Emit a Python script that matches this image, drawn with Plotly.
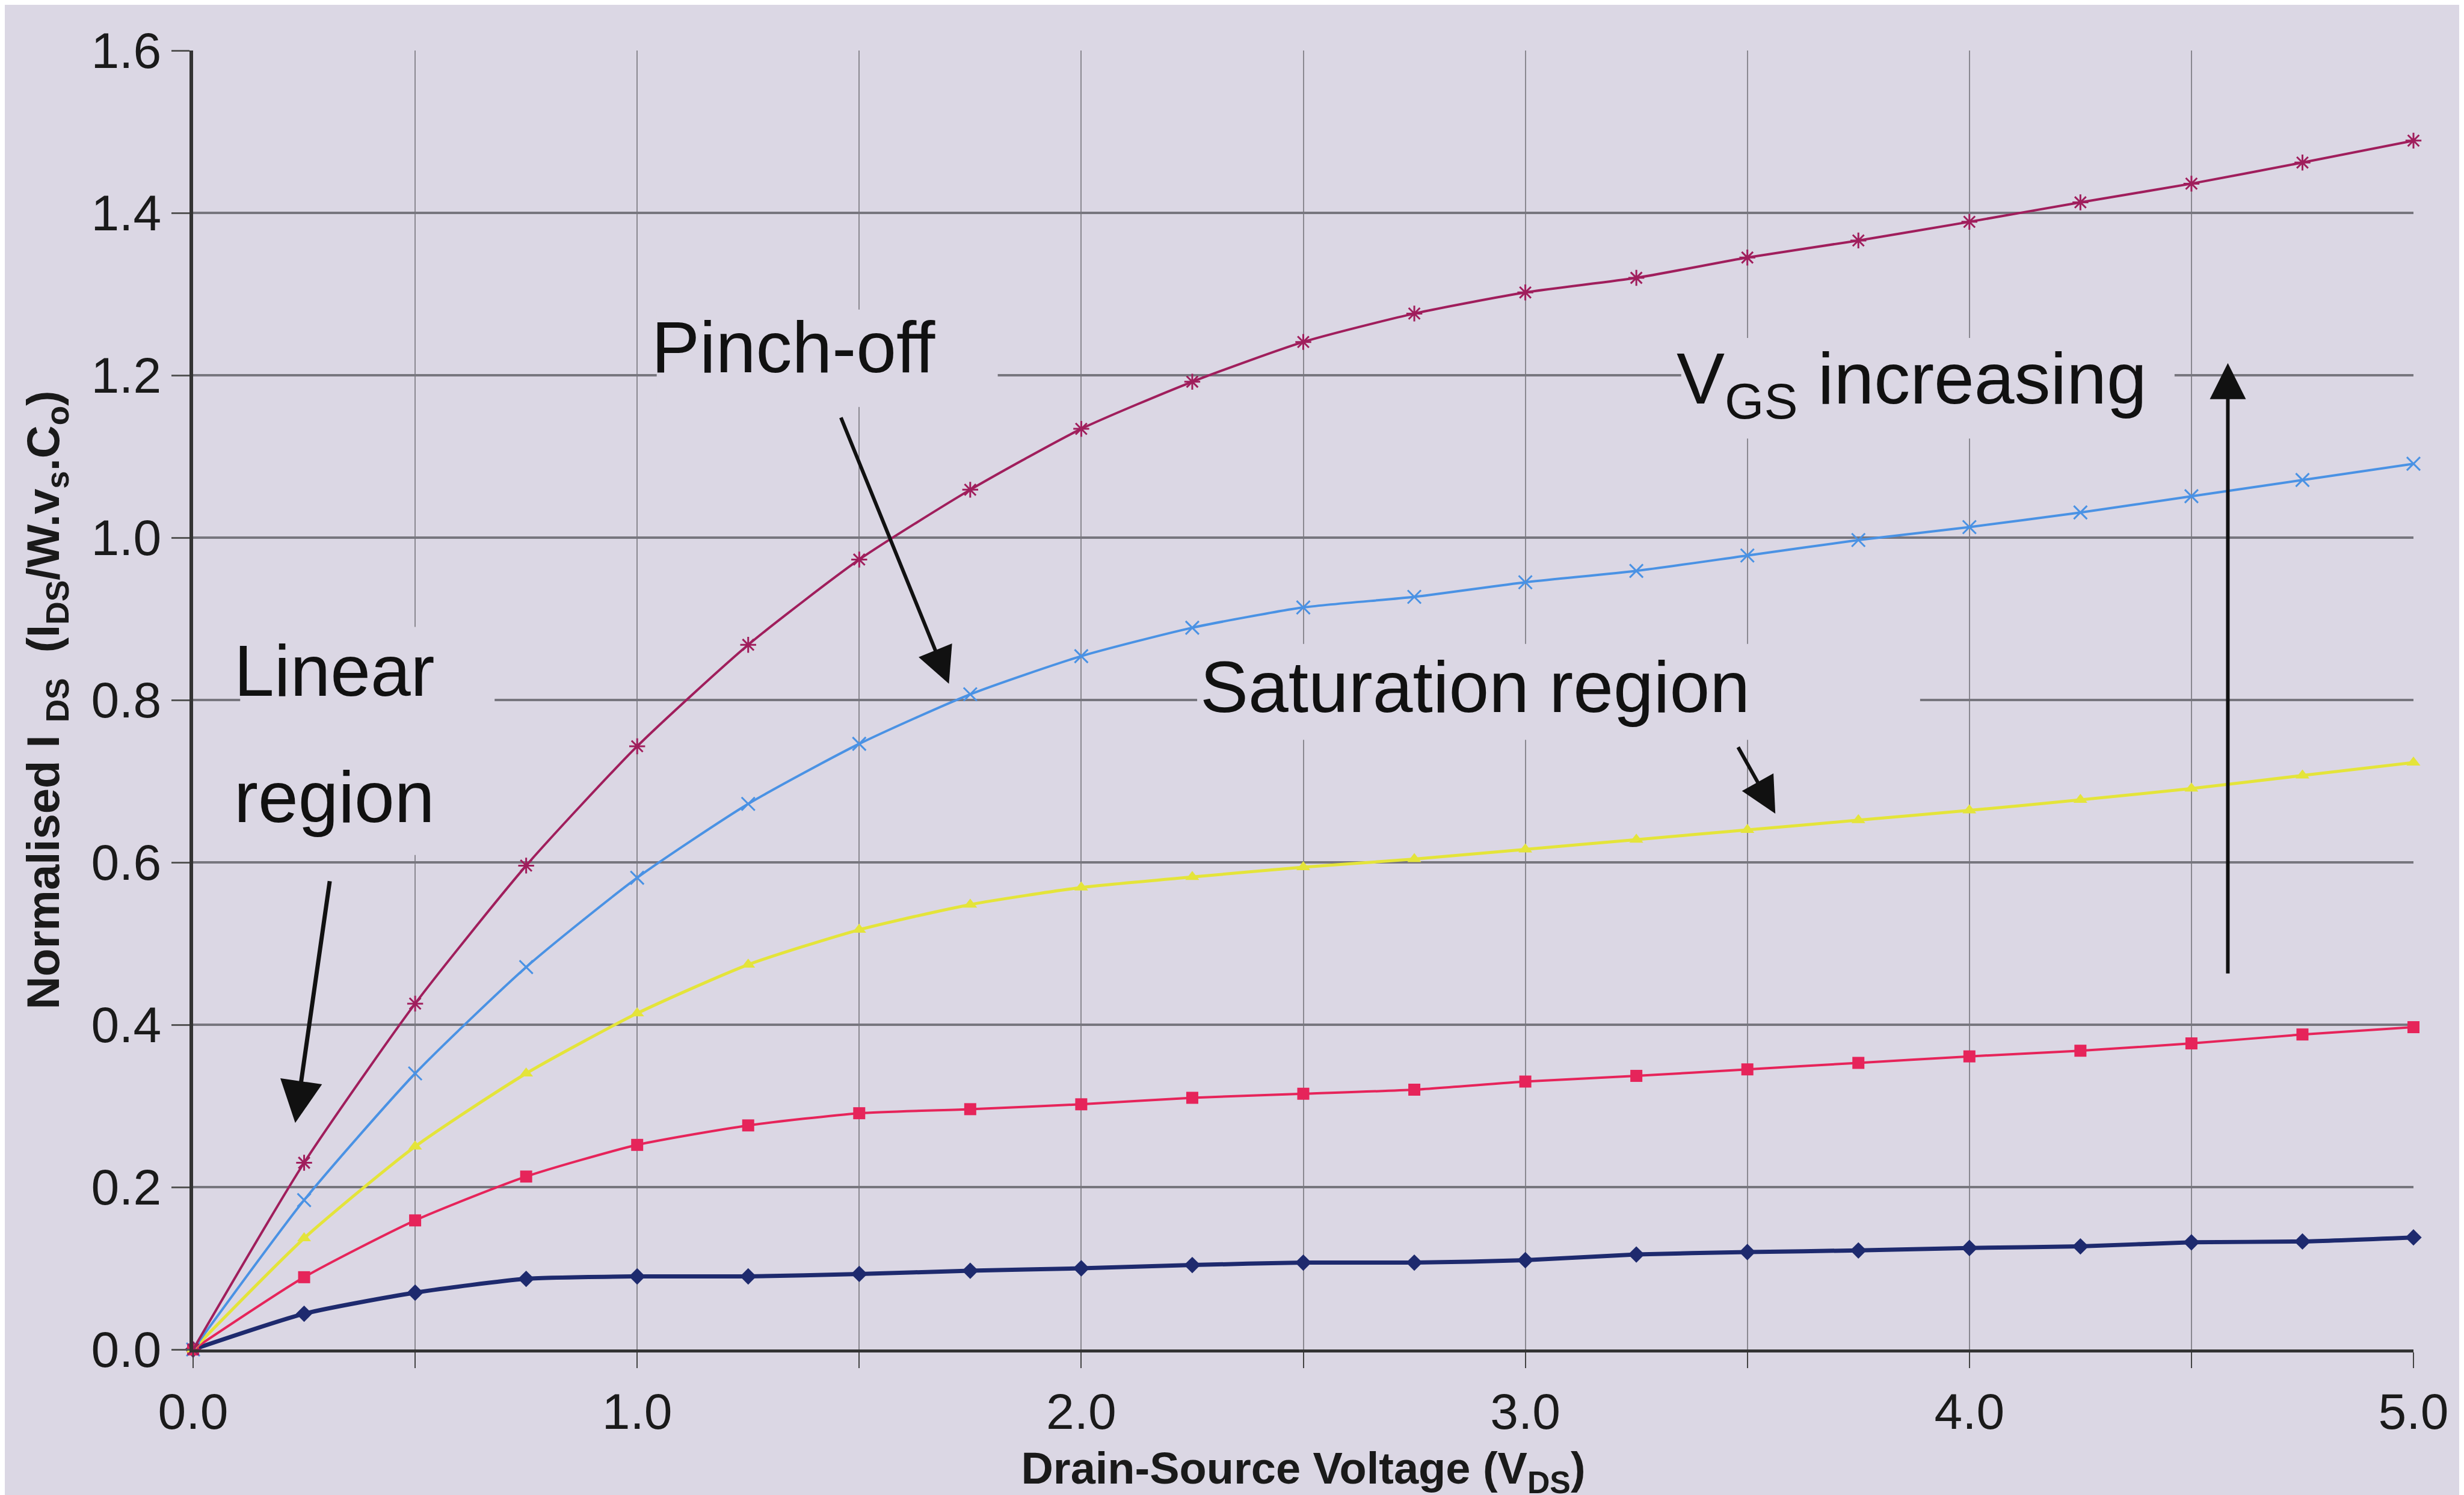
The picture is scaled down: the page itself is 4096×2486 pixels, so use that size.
import plotly.graph_objects as go

vds = [0.0, 0.25, 0.5, 0.75, 1.0, 1.25, 1.5, 1.75, 2.0, 2.25, 2.5, 2.75, 3.0,
       3.25, 3.5, 3.75, 4.0, 4.25, 4.5, 4.75, 5.0]

ids_vgs1 = [0.0, 0.044, 0.070, 0.087, 0.090, 0.090, 0.093, 0.097, 0.100, 0.104, 0.107,
            0.107, 0.110, 0.117, 0.120, 0.122, 0.125, 0.127, 0.132, 0.133, 0.138]
ids_vgs2 = [0.0, 0.089, 0.159, 0.213, 0.252, 0.276, 0.291, 0.296, 0.302, 0.310, 0.315,
            0.320, 0.330, 0.337, 0.345, 0.353, 0.361, 0.368, 0.377, 0.388, 0.397]
ids_vgs3 = [0.0, 0.137, 0.250, 0.340, 0.414, 0.474, 0.517, 0.548, 0.569, 0.582, 0.594,
            0.604, 0.616, 0.628, 0.640, 0.652, 0.664, 0.677, 0.691, 0.707, 0.723]
ids_vgs4 = [0.0, 0.184, 0.340, 0.471, 0.581, 0.672, 0.746, 0.807, 0.854, 0.889, 0.914,
            0.927, 0.945, 0.959, 0.978, 0.997, 1.013, 1.031, 1.051, 1.071, 1.091]
ids_vgs5 = [0.0, 0.230, 0.426, 0.596, 0.743, 0.868, 0.973, 1.059, 1.134, 1.192, 1.241,
            1.276, 1.302, 1.320, 1.345, 1.366, 1.389, 1.413, 1.436, 1.462, 1.489]

x_tickvals = [0.0, 0.5, 1.0, 1.5, 2.0, 2.5, 3.0, 3.5, 4.0, 4.5, 5.0]
x_ticktext = ["0.0", "", "1.0", "", "2.0", "", "3.0", "", "4.0", "", "5.0"]
y_tickvals = [0.0, 0.2, 0.4, 0.6, 0.8, 1.0, 1.2, 1.4, 1.6]
y_ticktext = ["0.0", "0.2", "0.4", "0.6", "0.8", "1.0", "1.2", "1.4", "1.6"]

BG = "#DBD7E4"
FONT = "Liberation Sans, Arial, sans-serif"

series = [
    (ids_vgs1, "#1E2A6E", "diamond", 21, 7, None),
    (ids_vgs2, "#E6245A", "square", 20, 4, None),
    (ids_vgs3, "#E4E43A", "triangle-up", 20, 5, None),
    (ids_vgs4, "#4A92E4", "x-thin-open", 22, 4, 3),
    (ids_vgs5, "#A01E5C", "asterisk-open", 22, 4, 3),
]

fig = go.Figure()
for ys, col, sym, msize, lw, mlw in series:
    marker = dict(symbol=sym, size=msize, color=col)
    if mlw:
        marker["line"] = dict(color=col, width=mlw)
    else:
        marker["line"] = dict(width=0)
    fig.add_trace(go.Scatter(
        x=vds, y=ys, mode="lines+markers",
        line=dict(color=col, width=lw, shape="spline", smoothing=0.6),
        marker=marker, showlegend=False, cliponaxis=False))

# background boxes behind the labels (hide gridlines, like text boxes)
boxes = [
    (0.106, 0.679, 0.609, 0.890),
    (1.044, 1.812, 1.161, 1.281),
    (3.351, 4.462, 1.122, 1.246),
    (2.261, 3.889, 0.751, 0.869),
]
for x0, x1, y0, y1 in boxes:
    fig.add_shape(type="rect", xref="x", yref="y", x0=x0, x1=x1, y0=y0, y1=y1,
                  fillcolor=BG, line=dict(width=0), layer="between")

ann_font = dict(family=FONT, size=120, color="#111111")
annotations = [
    dict(x=1.03, y=1.235, text="Pinch-off"),
    dict(x=0.09, y=0.836, text="Linear"),
    dict(x=0.09, y=0.681, text="region"),
    dict(x=2.265, y=0.816, text="Saturation region"),
    dict(x=3.338, y=1.19, text="V<sub>GS</sub> increasing"),
]
for a in annotations:
    fig.add_annotation(xref="x", yref="y", showarrow=False, font=ann_font,
                       xanchor="left", yanchor="middle", **a)

arrows = [
    # head (x, y), tail (ax, ay), width
    (0.23, 0.279, 0.308, 0.578, 7),
    (1.702, 0.820, 1.458, 1.149, 6),
    (3.563, 0.660, 3.478, 0.743, 6),
    (4.582, 1.215, 4.582, 0.462, 6),
]
for hx, hy, tx, ty, w in arrows:
    fig.add_annotation(x=hx, y=hy, ax=tx, ay=ty, xref="x", yref="y",
                       axref="x", ayref="y", text="", showarrow=True,
                       arrowhead=2, arrowsize=2.0, arrowwidth=w,
                       arrowcolor="#111111")

fig.update_layout(
    width=4096, height=2486,
    paper_bgcolor=BG, plot_bgcolor=BG,
    margin=dict(l=313, r=92, t=76, b=250),
    font=dict(family=FONT, color="#1a1a1a"),
    xaxis=dict(
        range=[0, 5], tickvals=x_tickvals, ticktext=x_ticktext,
        showgrid=True, gridcolor="#8a8890", gridwidth=2,
        showline=True, linecolor="#333333", linewidth=5,
        ticks="outside", ticklen=26, tickcolor="#444444", tickwidth=2,
        tickfont=dict(size=84, family=FONT, color="#1a1a1a"),
        zeroline=False,
        title=dict(text="<b>Drain-Source Voltage (V<sub>DS</sub>)</b>",
                   font=dict(size=74, family=FONT, color="#1a1a1a"), standoff=34),
    ),
    yaxis=dict(
        range=[0, 1.6], tickvals=y_tickvals, ticktext=y_ticktext,
        showgrid=True, gridcolor="#77767e", gridwidth=4,
        showline=True, linecolor="#333333", linewidth=6,
        ticks="outside", ticklen=30, tickcolor="#555555", tickwidth=3,
        tickfont=dict(size=84, family=FONT, color="#1a1a1a"),
        zeroline=False,
        title=dict(text="<b>Normalised I <sub>DS</sub>  (I<sub>DS</sub>/W.v<sub>s</sub>.C<sub>o</sub>)</b>",
                   font=dict(size=76, family=FONT, color="#1a1a1a"), standoff=30),
    ),
)

fig.write_html("out.html")
